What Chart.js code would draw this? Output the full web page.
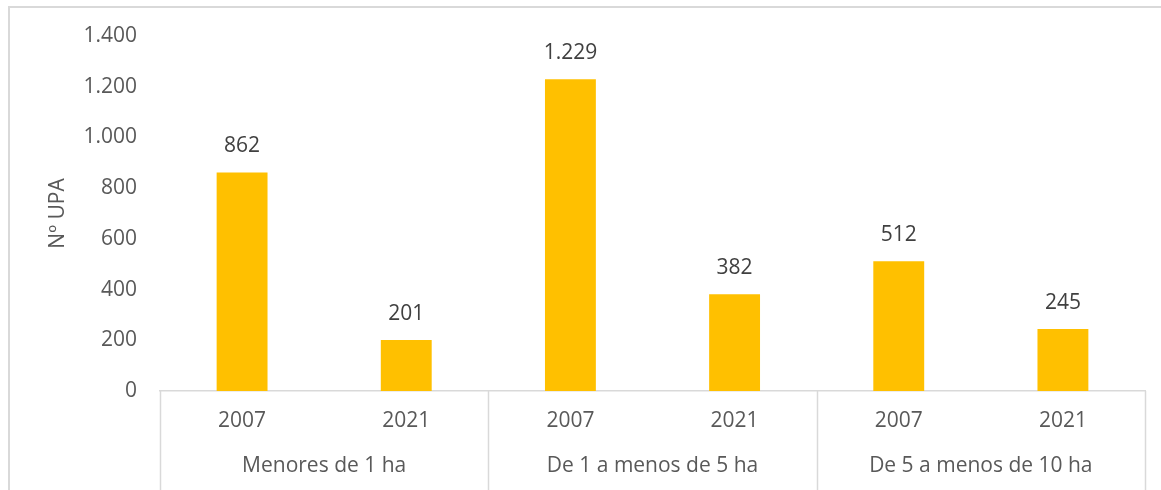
<!DOCTYPE html>
<html>
<head>
<meta charset="utf-8">
<script src="https://cdn.jsdelivr.net/npm/chart.js@4.4.1/dist/chart.umd.min.js"></script>
<style>
  html, body { margin: 0; padding: 0; background: #fff; }
  #wrap { position: relative; width: 1161px; height: 490px; overflow: hidden; }
  #frame { position: absolute; left: 8px; top: 6px; right: -10px; bottom: -10px; border-top: 2px solid #d9d9d9; border-left: 2px solid #d9d9d9; pointer-events: none; }
  canvas { position: absolute; left: 0; top: 0; }
</style>
</head>
<body>
<div id="wrap">
  <canvas id="chart" width="1161" height="490"></canvas>
  <div id="frame"></div>
</div>
<script>
// Nº UPA por tamaño de explotación, 2007 vs 2021
const groups = ["Menores de 1 ha", "De 1 a menos de 5 ha", "De 5 a menos de 10 ha"];
const years = ["2007", "2021"];
const upa = [862, 201, 1229, 382, 512, 245];
const yTicks = [0, 200, 400, 600, 800, 1000, 1200, 1400];

const FONT = "'Open Sans', Lato, sans-serif";
const FSIZE = 21;
const AXIS_GREY = "#d9d9d9";

function fmtEs(n) { return String(n).replace(/\B(?=(\d{3})+(?!\d))/g, "."); }

const categories = groups.flatMap(() => years);

// values above each bar
const barLabels = {
  id: "barLabels",
  afterDatasetsDraw(chart) {
    const ctx = chart.ctx;
    const meta = chart.getDatasetMeta(0);
    ctx.save();
    ctx.font = FSIZE + "px " + FONT;
    ctx.fillStyle = "#404040";
    ctx.textAlign = "center";
    ctx.textBaseline = "middle";
    meta.data.forEach((bar, i) => ctx.fillText(fmtEs(upa[i]), bar.x, bar.y - 26));
    ctx.restore();
  }
};

// vertical separators of the two-level category axis
const groupLines = {
  id: "groupLines",
  afterDraw(chart) {
    const x = chart.scales.x, ctx = chart.ctx;
    const edges = [x.left];
    for (let g = 1; g < groups.length; g++) {
      const i = g * years.length;
      edges.push((x.getPixelForValue(i - 1) + x.getPixelForValue(i)) / 2);
    }
    edges.push(x.right);
    ctx.save();
    ctx.strokeStyle = AXIS_GREY;
    ctx.lineWidth = 1.5;
    edges.forEach(px => {
      ctx.beginPath();
      ctx.moveTo(Math.round(px) + 0.5, x.top);
      ctx.lineTo(Math.round(px) + 0.5, chart.height);
      ctx.stroke();
    });
    ctx.restore();
  }
};

new Chart(document.getElementById("chart"), {
  type: "bar",
  data: {
    labels: categories,
    datasets: [{ data: upa, backgroundColor: "#ffc000", barPercentage: 0.31, categoryPercentage: 1.0 }]
  },
  options: {
    responsive: false,
    animation: false,
    layout: { padding: { left: 8, right: 16, top: 36, bottom: 0 } },
    plugins: { legend: { display: false }, tooltip: { enabled: false } },
    scales: {
      y: {
        min: 0, max: 1400,
        afterBuildTicks: s => { s.ticks = yTicks.map(v => ({ value: v })); },
        afterFit: s => { s.width = 152; },
        grid: { display: false, drawTicks: false },
        border: { display: false },
        ticks: { padding: 23, color: "#595959", font: { family: FONT, size: FSIZE }, callback: v => fmtEs(v) },
        title: { display: true, text: "Nº UPA", color: "#595959", font: { family: FONT, size: FSIZE }, padding: { top: 37, bottom: 0 } }
      },
      x: {
        weight: 0,
        afterFit: s => { s.height = 45; },
        grid: { display: false, drawTicks: false },
        border: { display: true, color: AXIS_GREY, width: 1.5 },
        ticks: { padding: 17, color: "#595959", font: { family: FONT, size: FSIZE } }
      },
      x2: {
        type: "category",
        position: "bottom",
        weight: 1,
        labels: groups,
        offset: true,
        afterFit: s => { s.height = 54; },
        grid: { display: false, drawTicks: false },
        border: { display: false },
        ticks: { padding: 17, color: "#595959", font: { family: FONT, size: FSIZE } }
      }
    }
  },
  plugins: [barLabels, groupLines]
});
</script>
</body>
</html>
